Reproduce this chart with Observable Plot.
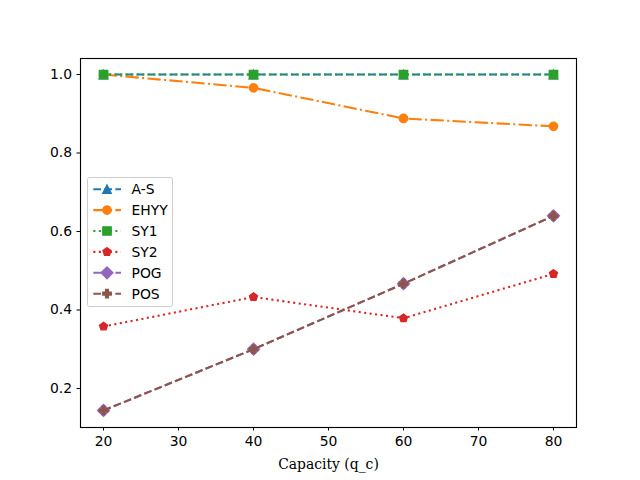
<!DOCTYPE html>
<html>
<head>
<meta charset="utf-8">
<script src="https://cdn.jsdelivr.net/npm/d3@7"></script>
<script src="https://cdn.jsdelivr.net/npm/@observablehq/plot@0.6"></script>
<style>
  html, body { margin: 0; padding: 0; background: white; }
  #chart { width: 640px; height: 480px; }
  g[aria-label="x-axis label"] text { font-family: "DejaVu Serif", serif; }
</style>
</head>
<body>
<div id="chart"></div>
<script>
// ---- data ----
const capacity = [20, 40, 60, 80];
const seriesNames = ["A-S", "EHYY", "SY1", "SY2", "POG", "POS"];
const aS   = [1.0, 1.0, 1.0, 1.0];
const ehyy = [1.0, 0.966, 0.888, 0.868];
const sy1  = [1.0, 1.0, 1.0, 1.0];
const sy2  = [0.358, 0.433, 0.379, 0.492];
const pog  = [0.144, 0.300, 0.467, 0.640];
const pos  = [0.144, 0.300, 0.467, 0.640];
const xTicks = [20, 30, 40, 50, 60, 70, 80];
const yTicks = [0.2, 0.4, 0.6, 0.8, 1.0];
const xLabel = "Capacity (q_c)";

// ---- styles ----
const colors = ["#1f77b4", "#ff7f0e", "#2ca02c", "#d62728", "#9467bd", "#8c564b"];
const lw = 2.08;
const dashes = [
  `${3.7*lw},${1.6*lw}`,
  `${6.4*lw},${1.6*lw},${1*lw},${1.6*lw}`,
  `${1*lw},${1.65*lw}`,
  `${1*lw},${1.65*lw}`,
  `${3.7*lw},${1.6*lw}`,
  `${3.7*lw},${1.6*lw}`
];
const rad = s => Math.sqrt(s / Math.PI);
const symTriangle = { draw(c, s) { const r = rad(s); c.moveTo(0, -r); c.lineTo(r, r); c.lineTo(-r, r); c.closePath(); } };
const symCircle = { draw(c, s) { const r = rad(s); c.moveTo(r, 0); c.arc(0, 0, r, 0, 2 * Math.PI); c.closePath(); } };
const symSquare = { draw(c, s) { const r = rad(s); c.rect(-r, -r, 2 * r, 2 * r); } };
const symPentagon = { draw(c, s) { const r = rad(s); for (let k = 0; k < 5; k++) { const a = -Math.PI / 2 + k * 2 * Math.PI / 5; const px = r * Math.cos(a), py = r * Math.sin(a); if (k === 0) c.moveTo(px, py); else c.lineTo(px, py); } c.closePath(); } };
const symDiamond = { draw(c, s) { const r = rad(s) * Math.SQRT2; c.moveTo(0, -r); c.lineTo(r, 0); c.lineTo(0, r); c.lineTo(-r, 0); c.closePath(); } };
const symPlus = { draw(c, s) { const r = rad(s); const w = r / 3; const pts = [[-w,-r],[w,-r],[w,-w],[r,-w],[r,w],[w,w],[w,r],[-w,r],[-w,w],[-r,w],[-r,-w],[-w,-w]]; pts.forEach((p, i) => i ? c.lineTo(p[0], p[1]) : c.moveTo(p[0], p[1])); c.closePath(); } };
const symbols = [symTriangle, symCircle, symSquare, symPentagon, symDiamond, symPlus];
const values = [aS, ehyy, sy1, sy2, pog, pos];
const mr = 4.17;

const seriesMarks = [];
values.forEach((vals, i) => {
  const data = capacity.map((x, j) => ({ x, y: vals[j] }));
  seriesMarks.push(Plot.line(data, { x: "x", y: "y", stroke: colors[i], strokeWidth: lw, strokeDasharray: dashes[i], strokeLinecap: "butt", strokeLinejoin: "round" }));
  seriesMarks.push(Plot.dot(data, { x: "x", y: "y", r: mr, symbol: symbols[i], fill: colors[i], stroke: colors[i], strokeWidth: 1.39 }));
});

const chart = Plot.plot({
  width: 640,
  height: 480,
  marginLeft: 80,
  marginRight: 64,
  marginTop: 58,
  marginBottom: 53,
  style: { fontFamily: "DejaVu Sans", fontSize: "13.9px", background: "white", color: "black" },
  x: { domain: [16.93, 83.07] },
  y: { domain: [0.1006, 1.0408] },
  marks: [
    ...seriesMarks,
    Plot.frame({ stroke: "black", strokeWidth: 1.11 }),
    Plot.axisX({ ticks: xTicks, tickSize: 3.5, tickPadding: 5.5, tickFormat: d3.format("d"), label: xLabel, labelAnchor: "center", labelArrow: "none", labelOffset: 41, fontSize: "13.9px" }),
    Plot.axisY({ ticks: yTicks, tickSize: 3.5, tickPadding: 4.9, tickFormat: d3.format(".1f"), label: null, fontSize: "13.9px" })
  ]
});
document.getElementById("chart").appendChild(chart);

// ---- legend (drawn into the SVG) ----
const svg = d3.select(chart);
const lg = svg.append("g").attr("font-family", "DejaVu Sans").attr("font-size", "13.9px").attr("text-anchor", "start");
lg.append("rect").attr("x", 87.5).attr("y", 177.5).attr("width", 85).attr("height", 129)
  .attr("rx", 2).attr("fill", "white").attr("fill-opacity", 0.8).attr("stroke", "#cccccc").attr("stroke-width", 1);
seriesNames.forEach((name, i) => {
  const cy = 189.2 + i * 20.9;
  lg.append("line").attr("x1", 93.3).attr("x2", 121).attr("y1", cy).attr("y2", cy)
    .attr("stroke", colors[i]).attr("stroke-width", lw).attr("stroke-dasharray", dashes[i]);
  const p = d3.path();
  symbols[i].draw(p, mr * mr * Math.PI);
  lg.append("path").attr("d", p.toString()).attr("transform", `translate(107,${cy})`)
    .attr("fill", colors[i]).attr("stroke", colors[i]).attr("stroke-width", 1.39);
  lg.append("text").attr("x", 131.5).attr("y", cy).attr("dy", "0.36em").attr("text-anchor", "start").attr("fill", "black").text(name);
});
</script>
</body>
</html>
